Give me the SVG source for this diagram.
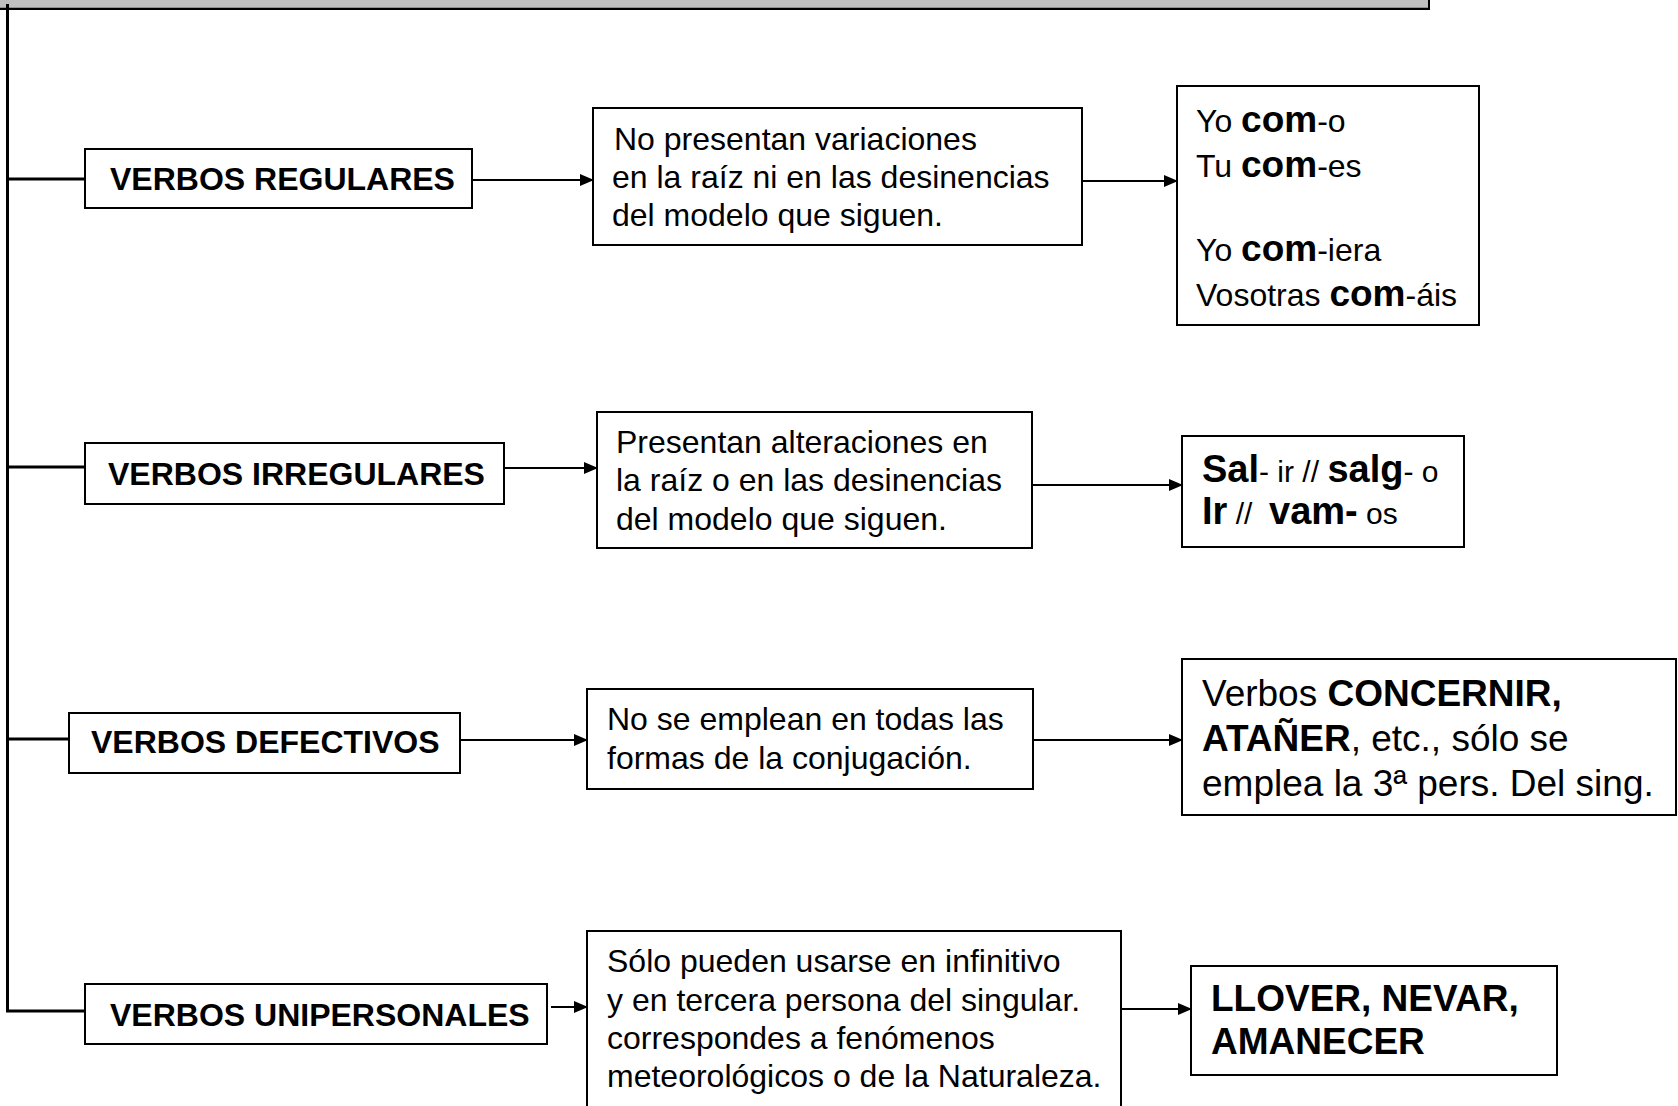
<svg xmlns="http://www.w3.org/2000/svg" width="1678" height="1106" viewBox="0 0 1678 1106">
<defs>
<style>
text{font-family:"Liberation Sans",Arial,sans-serif;fill:#000}
.box{fill:#fff;stroke:#000;stroke-width:2}
.lab{font-size:32px;font-weight:bold}
.t{font-size:32px}
.b{font-weight:bold}
.big{font-size:37px}
.conn{stroke:#000;stroke-width:2;fill:none}
.trunk{stroke:#000;stroke-width:3;fill:none}
</style>
<marker id="ah" markerUnits="userSpaceOnUse" markerWidth="14" markerHeight="12" refX="13" refY="6" orient="auto">
<path d="M0,0 L14,6 L0,12 Z" fill="#000"/>
</marker>
</defs>
<rect width="1678" height="1106" fill="#fff"/>
<g id="topbar">
<rect x="-5" y="-5" width="1434" height="14" fill="#c0c0c0" stroke="#000" stroke-width="2"/>
<line x1="0" y1="7.5" x2="1428" y2="7.5" stroke="#909090" stroke-width="1"/>
</g>
<g id="connectors">
<path class="trunk" d="M7.5,4 V1011 H85"/>
<line class="trunk" x1="7.5" y1="179" x2="85" y2="179"/>
<line class="trunk" x1="7.5" y1="467" x2="85" y2="467"/>
<line class="trunk" x1="7.5" y1="739" x2="69" y2="739"/>
<line class="conn" x1="472" y1="180" x2="593" y2="180" marker-end="url(#ah)"/>
<line class="conn" x1="1082" y1="181" x2="1177" y2="181" marker-end="url(#ah)"/>
<line class="conn" x1="504" y1="468" x2="597" y2="468" marker-end="url(#ah)"/>
<line class="conn" x1="1032" y1="485" x2="1182" y2="485" marker-end="url(#ah)"/>
<line class="conn" x1="460" y1="740" x2="587" y2="740" marker-end="url(#ah)"/>
<line class="conn" x1="1033" y1="740" x2="1182" y2="740" marker-end="url(#ah)"/>
<line class="conn" x1="551" y1="1007" x2="587" y2="1007" marker-end="url(#ah)"/>
<line class="conn" x1="1113" y1="1009" x2="1191" y2="1009" marker-end="url(#ah)"/>
</g>
<g id="regulares">
<rect class="box" x="85" y="149" width="387" height="59"/>
<text class="lab" x="110" y="190">VERBOS REGULARES</text>
</g>
<g id="regulares-def">
<rect class="box" x="593" y="108" width="489" height="137"/>
<text class="t" x="614" y="150">No presentan variaciones</text>
<text class="t" x="612" y="188">en la raíz ni en las desinencias</text>
<text class="t" x="612" y="226">del modelo que siguen.</text>
</g>
<g id="regulares-ej">
<rect class="box" x="1177" y="86" width="302" height="239"/>
<text class="t" x="1196" y="132">Yo <tspan class="b" font-size="37">com</tspan>-o</text>
<text class="t" x="1196" y="177">Tu <tspan class="b" font-size="37">com</tspan>-es</text>
<text class="t" x="1196" y="261">Yo <tspan class="b" font-size="37">com</tspan>-iera</text>
<text class="t" x="1196" y="306">Vosotras <tspan class="b" font-size="37">com</tspan>-áis</text>
</g>
<g id="irregulares">
<rect class="box" x="85" y="443" width="419" height="61"/>
<text class="lab" x="108" y="485">VERBOS IRREGULARES</text>
</g>
<g id="irregulares-def">
<rect class="box" x="597" y="412" width="435" height="136"/>
<text class="t" x="616" y="453">Presentan alteraciones en</text>
<text class="t" x="616" y="491">la raíz o en las desinencias</text>
<text class="t" x="616" y="530">del modelo que siguen.</text>
</g>
<g id="irregulares-ej">
<rect class="box" x="1182" y="436" width="282" height="111"/>
<text x="1202" y="482" font-size="30" xml:space="preserve"><tspan class="b" font-size="38">Sal</tspan>- ir // <tspan class="b" font-size="38">salg</tspan>- o</text>
<text x="1202" y="524" font-size="30" xml:space="preserve"><tspan class="b" font-size="38">Ir</tspan> //  <tspan class="b" font-size="38">vam-</tspan> os</text>
</g>
<g id="defectivos">
<rect class="box" x="69" y="713" width="391" height="60"/>
<text class="lab" x="91" y="753">VERBOS DEFECTIVOS</text>
</g>
<g id="defectivos-def">
<rect class="box" x="587" y="689" width="446" height="100"/>
<text class="t" x="607" y="730">No se emplean en todas las</text>
<text class="t" x="607" y="769">formas de la conjugación.</text>
</g>
<g id="defectivos-ej">
<rect class="box" x="1182" y="659" width="494" height="156"/>
<text class="big" x="1202" y="706">Verbos <tspan class="b">CONCERNIR,</tspan></text>
<text class="big" x="1202" y="751"><tspan class="b">ATAÑER</tspan>, etc., sólo se</text>
<text class="big" x="1202" y="796">emplea la 3ª pers. Del sing.</text>
</g>
<g id="unipersonales">
<rect class="box" x="85" y="984" width="462" height="60"/>
<text class="lab" x="110" y="1026">VERBOS UNIPERSONALES</text>
</g>
<g id="unipersonales-def">
<rect class="box" x="587" y="931" width="534" height="200"/>
<text class="t" x="607" y="972">Sólo pueden usarse en infinitivo</text>
<text class="t" x="607" y="1011">y en tercera persona del singular.</text>
<text class="t" x="607" y="1049">correspondes a fenómenos</text>
<text class="t" x="607" y="1087">meteorológicos o de la Naturaleza.</text>
</g>
<g id="unipersonales-ej">
<rect class="box" x="1191" y="966" width="366" height="109"/>
<text class="big b" x="1211" y="1011">LLOVER, NEVAR,</text>
<text class="big b" x="1211" y="1054">AMANECER</text>
</g>
</svg>
